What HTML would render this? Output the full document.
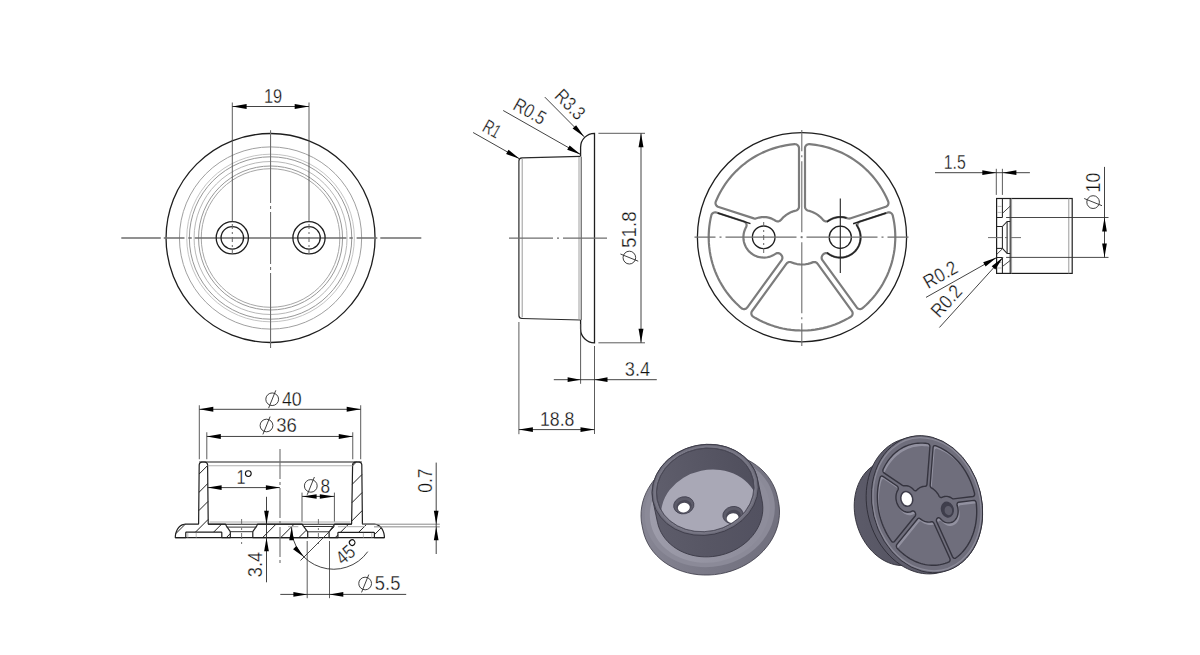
<!DOCTYPE html>
<html><head><meta charset="utf-8"><style>
html,body{margin:0;padding:0;background:#fff;width:1200px;height:655px;overflow:hidden}
svg{display:block}
text{font-family:"Liberation Sans",sans-serif;fill:#111;stroke:#fff;stroke-width:0.3px}
</style></head><body>
<svg width="1200" height="655" viewBox="0 0 1200 655">
<rect width="1200" height="655" fill="#fff"/>
<circle cx="270.55" cy="238" r="104.5" stroke="#1e1e1e" stroke-width="1.3" fill="none" />
<circle cx="270.55" cy="238" r="91.1" stroke="#a0a0a0" stroke-width="1.0" fill="none" />
<circle cx="270.55" cy="238" r="83.8" stroke="#c4c4c4" stroke-width="1.0" fill="none" />
<circle cx="270.55" cy="238" r="81.2" stroke="#979797" stroke-width="1.0" fill="none" />
<circle cx="270.55" cy="238" r="76.5" stroke="#b8b8b8" stroke-width="1.0" fill="none" />
<circle cx="270.55" cy="238" r="72" stroke="#999" stroke-width="1.0" fill="none" />
<circle cx="270.55" cy="238" r="69.3" stroke="#a6a6a6" stroke-width="1.0" fill="none" />
<path d="M121.3 238H160.8M163.75 238H184.5M188.3 238H191.75M194.7 238H346.4M349.4 238H352.8M356.6 238H377.3M380.3 238H421.3" stroke="#6e6e6e" stroke-width="1.4" fill="none"/>
<path d="M270.55 130.3V203M270.55 206V209M270.55 212V264M270.55 267V270M270.55 273V348" stroke="#6e6e6e" stroke-width="1.1" fill="none"/>
<circle cx="232.3" cy="237.8" r="16.1" stroke="#1e1e1e" stroke-width="1.3" fill="none" />
<circle cx="232.3" cy="237.8" r="11.25" stroke="#1e1e1e" stroke-width="1.3" fill="none" />
<line x1="232.3" y1="224" x2="232.3" y2="254" stroke="#666" stroke-width="1.0" stroke-dasharray="5 3 2 3" stroke-dashoffset="0"/>
<circle cx="309" cy="237.8" r="16.1" stroke="#1e1e1e" stroke-width="1.3" fill="none" />
<circle cx="309" cy="237.8" r="11.25" stroke="#1e1e1e" stroke-width="1.3" fill="none" />
<line x1="309" y1="224" x2="309" y2="254" stroke="#666" stroke-width="1.0" stroke-dasharray="5 3 2 3" stroke-dashoffset="0"/>
<line x1="232.3" y1="102.5" x2="232.3" y2="221.6" stroke="#4a4a4a" stroke-width="0.9" />
<line x1="309" y1="102.5" x2="309" y2="221.6" stroke="#4a4a4a" stroke-width="0.9" />
<line x1="232.3" y1="106.5" x2="309" y2="106.5" stroke="#2e2e2e" stroke-width="0.9" />
<path d="M232.3 106.5L246.6 103.92L246.6 109.08Z" fill="#000"/>
<path d="M309 106.5L294.7 109.08L294.7 103.92Z" fill="#000"/>
<g transform="translate(273.1 96) rotate(0)">
<text x="-9.1" y="6.7" text-anchor="start" font-size="19.5" textLength="18.2" lengthAdjust="spacingAndGlyphs">19</text>
</g>
<path d="M580.6 156.4 L522 157.9 Q518.9 158.2 518.9 161 L518.9 315.5 Q518.9 318.4 522 318.5 L580.6 320" fill="none" stroke="#2a2a2a" stroke-width="1.2"/>
<line x1="522.2" y1="159" x2="522.2" y2="317.4" stroke="#9a9a9a" stroke-width="1.0" />
<line x1="579" y1="157" x2="579" y2="319.5" stroke="#a0a0a0" stroke-width="1.0" />
<line x1="581.2" y1="156.5" x2="581.2" y2="320" stroke="#444" stroke-width="1.0" />
<path d="M580.6 156 L580.6 147.2 A13.9 13.9 0 0 1 594.5 133.3 L594.5 342.8 A13.9 13.9 0 0 1 580.6 328.9 L580.6 320" fill="none" stroke="#1e1e1e" stroke-width="1.3"/>
<path d="M557 238.2L559 238.2M563 238.2L607 238.2M509 238.2L553 238.2" stroke="#6e6e6e" stroke-width="1.2" fill="none"/>
<line x1="598.4" y1="133.3" x2="645" y2="133.3" stroke="#4a4a4a" stroke-width="0.9" />
<line x1="598.4" y1="342.8" x2="645" y2="342.8" stroke="#4a4a4a" stroke-width="0.9" />
<line x1="641" y1="133.3" x2="641" y2="342.8" stroke="#2e2e2e" stroke-width="0.9" />
<path d="M641 133.3L643.46 147.3L638.54 147.3Z" fill="#000"/>
<path d="M641 342.8L638.54 328.8L643.46 328.8Z" fill="#000"/>
<g transform="translate(629.35 237.75) rotate(-90)">
<ellipse cx="-19.85" cy="0" rx="6.4" ry="6.3" fill="none" stroke="#2a2a2a" stroke-width="0.9"/>
<line x1="-23.45" y1="8.9" x2="-16.25" y2="-8.9" stroke="#2a2a2a" stroke-width="0.9"/>
<text x="-10.15" y="6.7" text-anchor="start" font-size="19.5" textLength="36.5" lengthAdjust="spacingAndGlyphs">51.8</text>
</g>
<line x1="580.6" y1="324" x2="580.6" y2="383.8" stroke="#4a4a4a" stroke-width="0.9" />
<line x1="594.5" y1="346" x2="594.5" y2="434" stroke="#4a4a4a" stroke-width="0.9" />
<line x1="553.8" y1="379.7" x2="656.8" y2="379.7" stroke="#2e2e2e" stroke-width="0.9" />
<path d="M580.6 379.7L567.6 382.05L567.6 377.35Z" fill="#000"/>
<path d="M594.5 379.7L607.5 377.35L607.5 382.05Z" fill="#000"/>
<g transform="translate(637.4 369.5) rotate(0)">
<text x="-12.65" y="6.7" text-anchor="start" font-size="19.5" textLength="25.3" lengthAdjust="spacingAndGlyphs">3.4</text>
</g>
<line x1="518.9" y1="322" x2="518.9" y2="434.2" stroke="#4a4a4a" stroke-width="0.9" />
<line x1="518.9" y1="429.6" x2="594.5" y2="429.6" stroke="#2e2e2e" stroke-width="0.9" />
<path d="M518.9 429.6L532.9 427.14L532.9 432.06Z" fill="#000"/>
<path d="M594.5 429.6L580.5 432.06L580.5 427.14Z" fill="#000"/>
<g transform="translate(557.2 419) rotate(0)">
<text x="-17.2" y="6.7" text-anchor="start" font-size="19.5" textLength="34.4" lengthAdjust="spacingAndGlyphs">18.8</text>
</g>
<line x1="473.1" y1="132.5" x2="519.5" y2="158.8" stroke="#2e2e2e" stroke-width="0.9" />
<path d="M519.5 158.8L506.11 154.04L508.54 149.75Z" fill="#000"/>
<g transform="translate(492 128.9) rotate(29.55)">
<text x="-8.5" y="6.7" text-anchor="start" font-size="19.5" textLength="17" lengthAdjust="spacingAndGlyphs">R1</text>
</g>
<line x1="503.2" y1="110.5" x2="580.6" y2="154.5" stroke="#2e2e2e" stroke-width="0.9" />
<path d="M580.6 154.5L567.21 149.72L569.65 145.44Z" fill="#000"/>
<g transform="translate(529.9 111.2) rotate(29.62)">
<text x="-17" y="6.7" text-anchor="start" font-size="19.5" textLength="34" lengthAdjust="spacingAndGlyphs">R0.5</text>
</g>
<line x1="544.8" y1="97.1" x2="584.2" y2="136.8" stroke="#2e2e2e" stroke-width="0.9" />
<path d="M584.2 136.8L572.59 128.6L576.09 125.13Z" fill="#000"/>
<g transform="translate(570.2 104.4) rotate(45.22)">
<text x="-17" y="6.7" text-anchor="start" font-size="19.5" textLength="34" lengthAdjust="spacingAndGlyphs">R3.3</text>
</g>
<circle cx="802" cy="237.2" r="104.6" stroke="#1e1e1e" stroke-width="1.3" fill="none" />
<path d="M822.58 255.13L821.91 256.22L821.61 257.45L821.71 258.71L822.24 259.95L856.76 307.46L857.21 307.99L857.81 308.46L858.44 308.8L859.17 309.02L859.88 309.11L860.64 309.05L861.33 308.88L862.03 308.55L863.38 307.47L866.34 304.77L868.78 302.35L871.14 299.85L873.4 297.26L875.54 294.61L879.26 289.5L881.13 286.62L882.89 283.7L885.85 278.11L887.3 275L888.62 271.86L890.77 265.91L891.77 262.63L892.64 259.33L893.93 253.14L894.45 249.75L894.85 246.36L895.26 240.05L895.3 236.62L895.21 233.18L895 229.76L894.67 226.36L894.2 222.93L893.51 219.01L892.7 215.32L892.28 214.33L891.47 213.34L890.39 212.67L889.16 212.36L887.89 212.46L860.17 221.46L859.35 221.82L858.65 222.36L858.08 223.04L857.68 223.81L857.45 224.67L857.42 225.56L857.69 226.73L858.76 228.85L859.5 230.71L860 232.38L860.38 234.3L860.58 236.3L860.58 238.29L860.38 240.27L859.99 242.23L859.42 244.13L858.65 245.99L857.71 247.74L856.59 249.41L855.33 250.95L853.76 252.5L852.2 253.75L850.53 254.83L848.28 255.96L845.72 256.86L843.26 257.38L840.54 257.6L838.82 257.55L837.3 257.38L835.6 257.05L833.95 256.58L832.52 256.05L830.96 255.32L827.9 253.47L826.7 253.11L825.53 253.13L824.41 253.49L823.5 254.1ZM809.31 144.19L808.51 144.21L807.75 144.38L806.96 144.74L806.33 145.2L805.8 145.78L805.39 146.45L805.12 147.21L805 147.99L805 206.8L805.12 207.67L805.43 208.49L805.91 209.23L806.53 209.84L807.64 210.45L810.24 211.17L812.43 211.97L813.99 212.67L815.74 213.61L817.73 214.89L819.84 216.53L821.53 218.12L823.36 220.19L823.96 220.7L825.19 221.3L826.48 221.45L827.26 221.33L828 221.06L830.72 219.41L833.01 218.35L835.36 217.61L837.8 217.15L840.07 217L842.52 217.12L845.22 217.6L848.24 218.52L849.11 218.58L849.97 218.44L885.82 206.81L886.8 206.31L887.65 205.5L888.19 204.59L888.47 203.54L888.47 202.55L888.2 201.51L886.34 197.3L884.28 193.21L882.02 189.23L879.26 184.9L877.27 182.07L875.19 179.34L872.66 176.27L870.35 173.69L867.58 170.83L865.07 168.45L862.5 166.17L859.41 163.66L856.65 161.58L853.83 159.62L850.94 157.76L847.98 156.02L844.96 154.38L841.88 152.85L838.75 151.44L835.59 150.16L832.34 148.97L829.07 147.91L825.77 146.98L822.46 146.17L819.07 145.47L815.7 144.91ZM715.8 201.51L715.57 202.26L715.5 203.04L715.56 203.74L715.77 204.5L716.13 205.19L716.62 205.81L717.2 206.31L717.88 206.69L753.82 218.39L754.76 218.58L755.72 218.53L759 217.55L761.7 217.1L763.96 217L766.2 217.15L768.64 217.61L771 218.36L773.28 219.41L775.97 221.05L777.29 221.43L778.05 221.44L778.74 221.32L779.45 221.05L780.04 220.71L780.63 220.2L782.68 217.91L784.18 216.52L786.27 214.88L788.53 213.46L790.31 212.53L791.88 211.85L794.06 211.08L796.28 210.48L797.22 210.02L797.9 209.44L798.48 208.65L798.85 207.75L798.99 206.78L799 148.17L798.82 147L798.32 145.94L797.61 145.15L796.71 144.56L795.76 144.25L794.69 144.19L790.03 144.67L785.48 145.38L780.99 146.3L776.03 147.59L772.72 148.61L769.48 149.75L765.78 151.22L762.62 152.62L759.04 154.38L756 156.03L753.05 157.77L749.7 159.94L746.87 161.93L744.14 164.01L741.49 166.19L738.91 168.46L736.43 170.83L734.03 173.29L731.72 175.83L729.53 178.44L727.4 181.17L725.39 183.95L723.48 186.81L721.69 189.71L719.98 192.72L718.41 195.75ZM716.41 212.54L715.65 212.38L714.94 212.35L714.18 212.47L713.51 212.71L712.85 213.09L712.31 213.55L711.83 214.14L711.49 214.77L710.72 217.89L709.89 222.36L709.33 226.36L708.95 230.32L708.74 234.35L708.71 238.36L708.87 242.91L709.21 246.92L709.79 251.44L710.49 255.41L711.49 259.86L712.56 263.74L713.78 267.56L715.15 271.3L716.48 274.49L718.16 278.13L719.99 281.69L721.98 285.17L724.11 288.57L726.38 291.84L729.16 295.51L732.49 299.44L735.63 302.77L739.33 306.32L741.49 308.21L742.4 308.77L743.07 309L743.75 309.1L744.44 309.09L745.19 308.93L746.27 308.41L747.19 307.53L781.69 260.04L782.11 259.27L782.35 258.41L782.39 257.45L782.23 256.59L781.67 255.45L780.42 254.04L779.34 253.37L778.18 253.09L777.2 253.12L776.26 253.39L773.03 255.33L771.48 256.05L770.06 256.58L767.4 257.26L764.46 257.59L761.45 257.47L759.76 257.21L758.27 256.86L756.64 256.33L755.24 255.75L753.71 254.97L752.42 254.17L750.83 253L749.36 251.67L748.02 250.19L746.95 248.77L745.91 247.08L745.05 245.31L744.35 243.44L743.84 241.52L743.55 239.77L743.41 237.78L743.46 235.8L743.7 233.84L744.07 232.13L744.58 230.48L745.25 228.83L746.28 226.8L746.57 225.65L746.57 224.87L746.42 224.09L746.12 223.36L745.62 222.65L744.88 221.98L743.91 221.48ZM752.1 310.98L751.71 311.66L751.47 312.32L751.34 313.08L751.36 313.79L751.52 314.54L751.79 315.19L752.21 315.84L752.7 316.35L755.5 318.09L759.53 320.27L763.16 322.03L766.81 323.61L770.58 325.05L774.38 326.32L778.76 327.56L782.69 328.48L787.16 329.31L791.16 329.87L795.69 330.29L799.72 330.47L803.73 330.48L807.71 330.33L811.16 330.05L815.13 329.57L819.09 328.92L823.01 328.1L826.89 327.12L830.71 325.97L835.05 324.45L839.29 322.72L843.94 320.54L848 318.37L850.83 316.7L851.58 316.07L852.01 315.53L852.34 314.91L852.58 314.18L852.66 313.47L852.5 312.21L851.95 311.06L817.5 263.64L816.91 262.99L816.12 262.45L815.29 262.13L814.34 262L813.17 262.15L810.55 263.13L807.96 263.84L805.36 264.29L802.99 264.48L799.98 264.43L796.99 264.04L794.38 263.41L791 262.2L790.15 262.02L789.37 262.01L788.6 262.16L787.88 262.45L787.24 262.86L786.49 263.65Z" fill="none" stroke="#7c7c7c" stroke-width="2.2" stroke-linejoin="round"/>
<path d="M860.6 237.3L860.53 235.56L860.3 233.83L859.93 232.13L859.41 230.46L858.76 228.85L857.96 227.29L857.04 225.82L855.97 224.4" fill="none" stroke="#222" stroke-width="1.5"/>
<path d="M846.56 217.99L844.02 217.34L841.42 217.03L838.81 217.06L836.22 217.41L833.7 218.1L831.28 219.11L829.02 220.42L827.02 221.95" fill="none" stroke="#222" stroke-width="1.5"/>
<path d="M826.94 252.58L828.01 253.46L829.23 254.32L830.51 255.08L831.73 255.7L832.99 256.24L834.41 256.73L835.85 257.11L837.32 257.38L838.68 257.54L840.18 257.6L841.67 257.55L843.03 257.42L844.5 257.16L845.95 256.8L847.37 256.33L848.64 255.81L849.87 255.2L851.16 254.45L852.39 253.61L853.46 252.75L854.57 251.74L855.59 250.65L856.46 249.59L857.32 248.37L858.08 247.09L858.76 245.75L859.28 244.49L859.76 243.07L860.13 241.63L860.4 240.16L860.54 238.79L860.6 237.3" fill="none" stroke="#222" stroke-width="1.5"/>
<line x1="750.48" y1="223.61" x2="717.67" y2="212.95" stroke="#222" stroke-width="1.5" />
<line x1="853.14" y1="223.74" x2="886.05" y2="213.05" stroke="#222" stroke-width="1.5" />
<circle cx="763.7" cy="237.3" r="11.3" stroke="#1e1e1e" stroke-width="1.3" fill="none" />
<circle cx="840.3" cy="237.3" r="11.1" stroke="#1e1e1e" stroke-width="1.3" fill="none" />
<path d="M800.5 237.2L802.5 237.2M806.5 237.2L877.5 237.2M881.5 237.2L883.5 237.2M887.5 237.2L908.5 237.2M725.5 237.2L796.5 237.2M719.5 237.2L721.5 237.2M694.5 237.2L715.5 237.2" stroke="#6e6e6e" stroke-width="1.2" fill="none"/>
<path d="M801.8 236.2L801.8 238.2M801.8 242.2L801.8 313.2M801.8 317.2L801.8 319.2M801.8 323.2L801.8 346M801.8 161.2L801.8 232.2M801.8 155.2L801.8 157.2M801.8 130L801.8 151.2" stroke="#6e6e6e" stroke-width="1.1" fill="none"/>
<line x1="763.7" y1="222" x2="763.7" y2="253" stroke="#666" stroke-width="1.0" stroke-dasharray="5 3 2 3" stroke-dashoffset="0"/>
<line x1="840.3" y1="198.4" x2="840.3" y2="273.1" stroke="#222" stroke-width="1.1" />
<rect x="996.6" y="198.5" width="75.6" height="74.9" fill="none" stroke="#1e1e1e" stroke-width="1.2"/>
<line x1="1010.2" y1="198.5" x2="1010.2" y2="273.4" stroke="#222" stroke-width="1.1" />
<line x1="1011.6" y1="198.5" x2="1011.6" y2="273.4" stroke="#9a9a9a" stroke-width="1.0" />
<line x1="1068.8" y1="198.5" x2="1068.8" y2="273.4" stroke="#9a9a9a" stroke-width="1.0" />
<line x1="1006.1" y1="217.5" x2="1108.5" y2="217.5" stroke="#333" stroke-width="0.9" />
<line x1="1006.1" y1="257.4" x2="1108.5" y2="257.4" stroke="#333" stroke-width="0.9" />
<line x1="1002.4" y1="198.5" x2="1002.4" y2="217.5" stroke="#222" stroke-width="1.05" />
<line x1="996.6" y1="217.5" x2="1002.4" y2="217.5" stroke="#222" stroke-width="1.05" />
<line x1="996.6" y1="226.5" x2="1002.4" y2="226.5" stroke="#222" stroke-width="1.05" />
<line x1="1002.4" y1="226.5" x2="1007.1" y2="221.5" stroke="#222" stroke-width="1.05" />
<line x1="1007.1" y1="221.5" x2="1010.2" y2="221.5" stroke="#222" stroke-width="1.05" />
<line x1="1002.4" y1="226.5" x2="1002.4" y2="248.4" stroke="#222" stroke-width="1.05" />
<line x1="996.6" y1="248.4" x2="1002.4" y2="248.4" stroke="#222" stroke-width="1.05" />
<line x1="1002.4" y1="248.4" x2="1007.1" y2="253.4" stroke="#222" stroke-width="1.05" />
<line x1="1007.1" y1="253.4" x2="1010.2" y2="253.6" stroke="#222" stroke-width="1.05" />
<line x1="996.6" y1="257.5" x2="1002.4" y2="257.5" stroke="#222" stroke-width="1.05" />
<line x1="1002.4" y1="257.5" x2="1002.4" y2="273.3" stroke="#222" stroke-width="1.05" />
<line x1="1007.1" y1="221.5" x2="1007.1" y2="253.4" stroke="#222" stroke-width="1.05" />
<line x1="1002.4" y1="213.4" x2="1010.2" y2="206.1" stroke="#333" stroke-width="0.9" />
<line x1="1002.4" y1="266.5" x2="1010.2" y2="260.5" stroke="#333" stroke-width="0.9" />
<line x1="997" y1="254.1" x2="1002.1" y2="249.1" stroke="#333" stroke-width="0.9" />
<line x1="997.3" y1="206.4" x2="1001.6" y2="206.4" stroke="#b0b0b0" stroke-width="0.9" />
<line x1="997.3" y1="212.4" x2="1001.6" y2="212.4" stroke="#b0b0b0" stroke-width="0.9" />
<line x1="997.3" y1="262.5" x2="1001.6" y2="262.5" stroke="#b0b0b0" stroke-width="0.9" />
<line x1="997.3" y1="268" x2="1001.6" y2="268" stroke="#b0b0b0" stroke-width="0.9" />
<line x1="988" y1="237.6" x2="1021" y2="237.6" stroke="#6e6e6e" stroke-width="1.0" stroke-dasharray="14 3 3 3" stroke-dashoffset="0"/>
<line x1="996.3" y1="168.8" x2="996.3" y2="194.9" stroke="#4a4a4a" stroke-width="0.9" />
<line x1="1002.4" y1="168.8" x2="1002.4" y2="194.9" stroke="#4a4a4a" stroke-width="0.9" />
<line x1="935" y1="172.7" x2="1029.9" y2="172.7" stroke="#2e2e2e" stroke-width="0.9" />
<path d="M996.3 172.7L982.3 175.05L982.3 170.35Z" fill="#000"/>
<path d="M1002.4 172.7L1016.4 170.35L1016.4 175.05Z" fill="#000"/>
<g transform="translate(954.7 162.4) rotate(0)">
<text x="-11" y="6.7" text-anchor="start" font-size="19.5" textLength="22" lengthAdjust="spacingAndGlyphs">1.5</text>
</g>
<line x1="1104.5" y1="166.9" x2="1104.5" y2="257.4" stroke="#2e2e2e" stroke-width="0.9" />
<path d="M1104.5 217.5L1106.85 231.5L1102.15 231.5Z" fill="#000"/>
<path d="M1104.5 257.4L1102.15 243.4L1106.85 243.4Z" fill="#000"/>
<g transform="translate(1093.1 190.7) rotate(-90)">
<ellipse cx="-11.4" cy="0" rx="6.4" ry="6.3" fill="none" stroke="#2a2a2a" stroke-width="0.9"/>
<line x1="-15" y1="8.9" x2="-7.8" y2="-8.9" stroke="#2a2a2a" stroke-width="0.9"/>
<text x="-1.7" y="6.7" text-anchor="start" font-size="19.5" textLength="19.6" lengthAdjust="spacingAndGlyphs">10</text>
</g>
<line x1="926" y1="297.4" x2="996.6" y2="257.6" stroke="#2e2e2e" stroke-width="0.9" />
<path d="M996.6 257.6L985.61 266.62L983.19 262.33Z" fill="#000"/>
<g transform="translate(940.3 274.6) rotate(-29.41)">
<text x="-18" y="6.7" text-anchor="start" font-size="19.5" textLength="36" lengthAdjust="spacingAndGlyphs">R0.2</text>
</g>
<line x1="939.4" y1="327.5" x2="1002.9" y2="257.6" stroke="#2e2e2e" stroke-width="0.9" />
<path d="M1002.9 257.6L995.31 269.62L991.66 266.31Z" fill="#000"/>
<g transform="translate(946.3 301) rotate(-47.75)">
<text x="-18" y="6.7" text-anchor="start" font-size="19.5" textLength="36" lengthAdjust="spacingAndGlyphs">R0.2</text>
</g>
<path d="M199.11 474.04L207.61 465.54M198.92 492.38L207.8 483.5M175.74 533.71L185.25 524.2M198.74 510.71L207.99 501.46M195.5 532.1L208.18 519.42M213.65 532.1L221.55 524.2M226.3 537.6L230.3 533.6M257.3 524.75L257.85 524.2M262.6 537.6L276 524.2M280.75 537.6L294.15 524.2M352.59 465.76L356.35 462M298.9 537.6L306.41 530.09M352.28 484.22L361.9 474.6M351.96 502.69L362.09 492.56M335.2 537.6L337.9 534.9M340.4 532.4L348.6 524.2M351.65 521.15L362.28 510.52M358.55 532.4L366.75 524.2M374.4 534.7L381.25 527.85" stroke="#222" stroke-width="1.0" fill="none"/>
<path d="M329.1 531.8L329.1 537.6L337.9 537.6L337.9 532.94L337.95 532.77L338.08 532.58L338.27 532.45L338.5 532.4L373.86 532.4L374.08 532.47L374.22 532.58L374.35 532.77L374.4 532.94L374.4 537.6L384.4 537.6L384.34 536.19L384.18 534.83L383.91 533.47L383.54 532.16L383.05 530.89L382.48 529.71L381.84 528.65L381.1 527.65L380.27 526.75L379.41 526.01L378.48 525.37L377.51 524.86L376.5 524.5L375.42 524.27L374.39 524.2L362.99 524.2L362.66 524.1L362.53 523.98L362.42 523.78L361.8 465.02L361.72 464.33L361.47 463.68L361.1 463.13L360.61 462.67L359.99 462.3L359.31 462.08L358.58 462L355.82 462L355.07 462.08L354.4 462.31L353.81 462.66L353.31 463.12L352.92 463.7L352.68 464.35L352.6 465.02L351.61 523.61L351.56 523.84L351.34 524.1L351.01 524.2L334.54 524.2L333.77 525.64ZM252.8 537.6L307.7 537.6L307.7 531.8L303.03 525.64L302.26 524.2L257.56 524.2L256.77 525.84L252.8 531.7ZM175.3 537.6L185.75 537.6L185.75 532.64L185.8 532.47L185.93 532.28L186.07 532.17L186.29 532.1L221.2 532.1L221.43 532.15L221.62 532.28L221.75 532.47L221.8 532.64L221.8 537.6L230.3 537.6L230.3 531.7L226.33 525.84L225.54 524.2L208.79 524.2L208.46 524.1L208.3 523.94L208.22 523.78L207.6 465.02L207.52 464.33L207.27 463.68L206.9 463.13L206.41 462.67L205.79 462.3L205.11 462.08L204.38 462L202.38 462L201.69 462.08L201.01 462.3L200.41 462.66L199.89 463.14L199.52 463.7L199.29 464.32L199.2 464.98L198.61 523.61L198.56 523.83L198.34 524.1L198.01 524.2L185.31 524.2L184.28 524.27L183.2 524.5L182.19 524.86L181.25 525.35L180.29 526.01L179.41 526.77L178.6 527.65L177.88 528.62L177.2 529.74L176.64 530.91L176.17 532.14L175.79 533.47L175.52 534.83L175.36 536.19Z" fill="none" stroke="#1e1e1e" stroke-width="1.2" stroke-linejoin="round"/>
<line x1="175.3" y1="537.6" x2="384.4" y2="537.6" stroke="#1e1e1e" stroke-width="1.2" />
<line x1="208.2" y1="524.2" x2="351.6" y2="524.2" stroke="#1e1e1e" stroke-width="1.1" />
<line x1="226.6" y1="527.1" x2="256.4" y2="527.1" stroke="#333" stroke-width="1.0" />
<line x1="230.3" y1="531.7" x2="252.8" y2="531.7" stroke="#333" stroke-width="1.0" />
<line x1="303.3" y1="526.5" x2="333.5" y2="526.5" stroke="#333" stroke-width="1.0" />
<line x1="307.7" y1="531.8" x2="329.1" y2="531.8" stroke="#333" stroke-width="1.0" />
<line x1="209.5" y1="522" x2="350.3" y2="522" stroke="#b0b0b0" stroke-width="1.1" />
<line x1="207.6" y1="465.8" x2="352.6" y2="465.8" stroke="#b0b0b0" stroke-width="1.1" />
<line x1="199.2" y1="462" x2="361.8" y2="462" stroke="#1e1e1e" stroke-width="1.2" />
<line x1="187.8" y1="532.8" x2="187.8" y2="537.6" stroke="#aaa" stroke-width="0.8" />
<line x1="196.2" y1="532.8" x2="196.2" y2="537.6" stroke="#aaa" stroke-width="0.8" />
<line x1="363.4" y1="532.8" x2="363.4" y2="537.6" stroke="#aaa" stroke-width="0.8" />
<line x1="371.8" y1="532.8" x2="371.8" y2="537.6" stroke="#aaa" stroke-width="0.8" />
<line x1="288" y1="526.7" x2="298.3" y2="526.7" stroke="#aaa" stroke-width="1.0" />
<line x1="337.9" y1="526.7" x2="365" y2="526.7" stroke="#aaa" stroke-width="1.0" />
<line x1="362.4" y1="524.2" x2="439.8" y2="524.2" stroke="#8a8a8a" stroke-width="1.0" />
<line x1="374" y1="526.85" x2="439.8" y2="526.85" stroke="#8a8a8a" stroke-width="1.0" />
<line x1="280" y1="449" x2="280" y2="563" stroke="#6e6e6e" stroke-width="1.1" stroke-dasharray="30 3 3 3" stroke-dashoffset="0"/>
<line x1="241.6" y1="519" x2="241.6" y2="545" stroke="#666" stroke-width="0.9" stroke-dasharray="6 3 2 3" stroke-dashoffset="0"/>
<line x1="318.4" y1="519" x2="318.4" y2="545" stroke="#666" stroke-width="0.9" stroke-dasharray="6 3 2 3" stroke-dashoffset="0"/>
<line x1="199.3" y1="405.25" x2="199.3" y2="459.25" stroke="#4a4a4a" stroke-width="0.9" />
<line x1="360.7" y1="405.25" x2="360.7" y2="459.25" stroke="#4a4a4a" stroke-width="0.9" />
<line x1="199.3" y1="409.3" x2="360.7" y2="409.3" stroke="#2e2e2e" stroke-width="0.9" />
<path d="M199.3 409.3L213.3 406.84L213.3 411.76Z" fill="#000"/>
<path d="M360.7 409.3L346.7 411.76L346.7 406.84Z" fill="#000"/>
<g transform="translate(283.7 399.25) rotate(0)">
<ellipse cx="-11.5" cy="0" rx="6.4" ry="6.3" fill="none" stroke="#2a2a2a" stroke-width="0.9"/>
<line x1="-15.1" y1="8.9" x2="-7.9" y2="-8.9" stroke="#2a2a2a" stroke-width="0.9"/>
<text x="-1.8" y="6.7" text-anchor="start" font-size="19.5" textLength="19.8" lengthAdjust="spacingAndGlyphs">40</text>
</g>
<line x1="206.8" y1="432.25" x2="206.8" y2="459.25" stroke="#4a4a4a" stroke-width="0.9" />
<line x1="352.75" y1="432.25" x2="352.75" y2="459.25" stroke="#4a4a4a" stroke-width="0.9" />
<line x1="206.8" y1="436.45" x2="352.75" y2="436.45" stroke="#2e2e2e" stroke-width="0.9" />
<path d="M206.8 436.45L220.8 433.99L220.8 438.91Z" fill="#000"/>
<path d="M352.75 436.45L338.75 438.91L338.75 433.99Z" fill="#000"/>
<g transform="translate(278.4 425.5) rotate(0)">
<ellipse cx="-11.9" cy="0" rx="6.4" ry="6.3" fill="none" stroke="#2a2a2a" stroke-width="0.9"/>
<line x1="-15.5" y1="8.9" x2="-8.3" y2="-8.9" stroke="#2a2a2a" stroke-width="0.9"/>
<text x="-2.2" y="6.7" text-anchor="start" font-size="19.5" textLength="20.6" lengthAdjust="spacingAndGlyphs">36</text>
</g>
<line x1="207.6" y1="487.6" x2="279.9" y2="487.6" stroke="#2e2e2e" stroke-width="0.9" />
<path d="M207.6 487.6L221.6 485.14L221.6 490.06Z" fill="#000"/>
<path d="M279.9 487.6L265.9 490.06L265.9 485.14Z" fill="#000"/>
<text x="236.6" y="484" font-size="19.5" textLength="9" lengthAdjust="spacingAndGlyphs">1</text>
<circle cx="248.3" cy="473.6" r="2.9" stroke="#111" stroke-width="1.1" fill="none" />
<line x1="302" y1="492.6" x2="302" y2="521.5" stroke="#4a4a4a" stroke-width="0.9" />
<line x1="334.4" y1="492.6" x2="334.4" y2="521.5" stroke="#4a4a4a" stroke-width="0.9" />
<line x1="302" y1="496.4" x2="334.4" y2="496.4" stroke="#2e2e2e" stroke-width="0.9" />
<path d="M302 496.4L316.6 494.16L316.6 498.64Z" fill="#000"/>
<path d="M334.4 496.4L319.8 498.64L319.8 494.16Z" fill="#000"/>
<g transform="translate(317.2 485.9) rotate(0)">
<ellipse cx="-6.4" cy="0" rx="6.4" ry="6.3" fill="none" stroke="#2a2a2a" stroke-width="0.9"/>
<line x1="-10" y1="8.9" x2="-2.8" y2="-8.9" stroke="#2a2a2a" stroke-width="0.9"/>
<text x="3.3" y="6.7" text-anchor="start" font-size="19.5" textLength="9.6" lengthAdjust="spacingAndGlyphs">8</text>
</g>
<line x1="266.5" y1="496.8" x2="266.5" y2="582.3" stroke="#2e2e2e" stroke-width="0.9" />
<path d="M266.5 524.3L264.15 510.8L268.85 510.8Z" fill="#000"/>
<path d="M266.5 537.8L268.85 551.3L264.15 551.3Z" fill="#000"/>
<g transform="translate(255.5 564.6) rotate(-90)">
<text x="-12.6" y="6.7" text-anchor="start" font-size="19.5" textLength="25.2" lengthAdjust="spacingAndGlyphs">3.4</text>
</g>
<line x1="307.2" y1="541" x2="307.2" y2="598.2" stroke="#4a4a4a" stroke-width="0.9" />
<line x1="329.5" y1="541" x2="329.5" y2="598.2" stroke="#4a4a4a" stroke-width="0.9" />
<line x1="280.3" y1="594.4" x2="406.2" y2="594.4" stroke="#2e2e2e" stroke-width="0.9" />
<path d="M307.2 594.4L293.4 596.75L293.4 592.05Z" fill="#000"/>
<path d="M329.5 594.4L343.3 592.05L343.3 596.75Z" fill="#000"/>
<g transform="translate(379.5 583.5) rotate(0)">
<ellipse cx="-14.35" cy="0" rx="6.4" ry="6.3" fill="none" stroke="#2a2a2a" stroke-width="0.9"/>
<line x1="-17.95" y1="8.9" x2="-10.75" y2="-8.9" stroke="#2a2a2a" stroke-width="0.9"/>
<text x="-4.65" y="6.7" text-anchor="start" font-size="19.5" textLength="25.5" lengthAdjust="spacingAndGlyphs">5.5</text>
</g>
<path d="M291.6 527.2 A42.0 42.0 0 0 0 367.75 551.65" fill="none" stroke="#2e2e2e" stroke-width="0.9"/>
<path d="M291.6 527.2L293.95 540.2L289.25 540.2Z" fill="#000"/>
<path d="M303.9 556.9L293.05 549.37L296.37 546.04Z" fill="#000"/>
<line x1="334.5" y1="526.5" x2="300.5" y2="560.5" stroke="#333" stroke-width="0.9" />
<g transform="translate(347.8 552.5) rotate(-41)"><text x="-12.5" y="6.7" font-size="19.5" textLength="18.5" lengthAdjust="spacingAndGlyphs">45</text></g>
<g transform="translate(347.8 552.5) rotate(-41)"><circle cx="9.8" cy="-4.6" r="2.8" fill="none" stroke="#111" stroke-width="1.1"/></g>
<line x1="436.2" y1="462.6" x2="436.2" y2="554" stroke="#2e2e2e" stroke-width="0.9" />
<path d="M436.2 524.2L433.85 510.7L438.55 510.7Z" fill="#000"/>
<path d="M436.2 526.85L438.55 540.35L433.85 540.35Z" fill="#000"/>
<g transform="translate(425.2 480.6) rotate(-90)">
<text x="-12.15" y="6.7" text-anchor="start" font-size="19.5" textLength="24.3" lengthAdjust="spacingAndGlyphs">0.7</text>
</g>
<defs>
<linearGradient id="flg" x1="0" y1="0" x2="1" y2="0.2"><stop offset="0" stop-color="#8a8997"/><stop offset="0.45" stop-color="#7e7d8b"/><stop offset="1" stop-color="#72717f"/></linearGradient>
<linearGradient id="flt" x1="0" y1="0" x2="1" y2="0.3"><stop offset="0" stop-color="#a09fad"/><stop offset="1" stop-color="#8e8d9b"/></linearGradient>
<linearGradient id="wal" x1="0" y1="0" x2="1" y2="0"><stop offset="0" stop-color="#5e5d6b"/><stop offset="0.5" stop-color="#575664"/><stop offset="1" stop-color="#525160"/></linearGradient>
<linearGradient id="inw" x1="0" y1="0" x2="1" y2="0"><stop offset="0" stop-color="#5f5e6c"/><stop offset="1" stop-color="#504f5d"/></linearGradient>
<clipPath id="innerclip"><ellipse cx="705.2" cy="489.9" rx="49.0" ry="41.45" transform="rotate(-12 705.2 489.9)"/></clipPath>
</defs>
<path d="M642.07 525.71L641.31 521.05L640.99 516.34L641.12 511.59L641.69 506.83L642.71 502.11L644.16 497.45L646.04 492.88L648.33 488.42L651.02 484.12L654.09 479.99L657.52 476.06L661.28 472.37L665.37 468.92L669.74 465.75L674.37 462.88L679.23 460.32L684.29 458.09L689.51 456.21L694.87 454.68L700.32 453.52L705.83 452.74L711.37 452.34L716.89 452.32L722.37 452.68L727.77 453.42L733.06 454.54L738.19 456.02L743.13 457.87L747.86 460.06L752.35 462.58L756.55 465.42L760.46 468.56L764.03 471.97L767.25 475.64L770.1 479.54L772.56 483.65L774.61 487.93L776.24 492.37L777.44 496.93L778.44 501.63L779.2 506.28L779.52 511L779.39 515.75L778.81 520.5L777.79 525.23L776.34 529.89L774.47 534.46L772.18 538.92L769.49 543.22L766.42 547.35L762.99 551.27L759.22 554.97L755.14 558.41L750.77 561.58L746.13 564.46L741.27 567.02L736.22 569.25L730.99 571.13L725.64 572.65L720.19 573.81L714.68 574.6L709.14 575L703.61 575.02L698.13 574.66L692.73 573.92L687.45 572.8L682.32 571.32L677.37 569.47L672.64 567.28L668.16 564.76L663.95 561.92L660.05 558.78L656.47 555.37L653.25 551.7L650.4 547.8L647.94 543.69L645.89 539.4L644.26 534.97L643.06 530.4Z" fill="url(#flg)" stroke="#3a3945" stroke-width="0.8"/>
<ellipse cx="709.75" cy="511.32" rx="65.5" ry="55.41" transform="rotate(-12 709.75 511.32)" fill="#8b8a98" />
<ellipse cx="709.75" cy="511.32" rx="60.3" ry="51.01" transform="rotate(-12 709.75 511.32)" fill="url(#flt)" />
<path d="M652.97 501L652.38 497.41L652.14 493.77L652.24 490.1L652.68 486.44L653.47 482.79L654.58 479.2L656.03 475.67L657.8 472.23L659.87 468.91L662.24 465.72L664.89 462.69L667.8 459.84L670.95 457.18L674.32 454.74L677.9 452.52L681.65 450.54L685.55 448.82L689.58 447.37L693.71 446.19L697.92 445.3L702.17 444.69L706.45 444.38L710.71 444.37L714.94 444.65L719.11 445.22L723.18 446.08L727.14 447.23L730.96 448.65L734.61 450.34L738.07 452.29L741.31 454.48L744.33 456.9L747.09 459.53L749.57 462.37L751.77 465.38L753.67 468.54L755.25 471.85L756.51 475.28L757.43 478.8L761.99 500.22L762.57 503.81L762.82 507.45L762.72 511.12L762.27 514.78L761.49 518.43L760.37 522.03L758.92 525.56L757.15 528.99L755.08 532.31L752.71 535.5L750.06 538.53L747.16 541.38L744 544.04L740.63 546.48L737.06 548.7L733.31 550.68L729.4 552.4L725.37 553.85L721.24 555.03L717.04 555.92L712.78 556.53L708.51 556.84L704.24 556.85L700.01 556.58L695.85 556L691.77 555.14L687.81 554L683.99 552.57L680.34 550.88L676.88 548.93L673.64 546.74L670.63 544.32L667.87 541.69L665.38 538.86L663.18 535.85L661.29 532.68L659.7 529.37L658.45 525.94L657.52 522.42Z" fill="url(#wal)" stroke="#3a3945" stroke-width="0.9"/>
<ellipse cx="705.2" cy="489.9" rx="53.4" ry="45.18" transform="rotate(-12 705.2 489.9)" fill="#6d6c7a" stroke="#3a3945" stroke-width="0.8"/>
<ellipse cx="705.2" cy="489.9" rx="51.6" ry="43.65" transform="rotate(-12 705.2 489.9)" fill="#777684" />
<ellipse cx="705.2" cy="489.9" rx="49" ry="41.45" transform="rotate(-12 705.2 489.9)" fill="url(#inw)" stroke="#3a3945" stroke-width="0.6"/>
<g clip-path="url(#innerclip)">
<ellipse cx="709.75" cy="511.32" rx="49" ry="41.45" transform="rotate(-12 709.75 511.32)" fill="#a9a8b6" />
<ellipse cx="683.8" cy="505.3" rx="10.2" ry="8.5" transform="rotate(-12 683.8 505.3)" fill="#5d5c6a" stroke="#3f3e4c" stroke-width="0.8"/>
<ellipse cx="684.1" cy="506.3" rx="7.6" ry="6.1" transform="rotate(-12 684.1 506.3)" fill="#4a4957" />
<ellipse cx="683.8" cy="507.6" rx="6" ry="4.7" transform="rotate(-12 683.8 507.6)" fill="#ffffff" />
<ellipse cx="733" cy="515" rx="10.2" ry="8.5" transform="rotate(-12 733 515)" fill="#5d5c6a" stroke="#3f3e4c" stroke-width="0.8"/>
<ellipse cx="733.3" cy="516" rx="7.6" ry="6.1" transform="rotate(-12 733.3 516)" fill="#4a4957" />
<ellipse cx="732.6" cy="518" rx="6" ry="4.7" transform="rotate(-12 732.6 518)" fill="#ffffff" />
</g>
<ellipse cx="705.2" cy="489.9" rx="49" ry="41.45" transform="rotate(-12 705.2 489.9)" fill="none" stroke="#4a4957" stroke-width="0.8"/>
<defs><linearGradient id="bdy" x1="0" y1="0" x2="1" y2="0"><stop offset="0" stop-color="#5c5b69"/><stop offset="0.6" stop-color="#535260"/><stop offset="1" stop-color="#4c4b59"/></linearGradient></defs>
<path d="M915.09 453.14L912.15 453.35L909.25 453.81L906.42 454.53L881.84 461.7L879.08 462.67L876.41 463.88L873.84 465.33L871.38 467.01L869.05 468.92L866.86 471.04L864.81 473.37L862.92 475.89L861.19 478.58L859.64 481.45L858.28 484.47L857.1 487.63L856.12 490.91L855.33 494.3L854.75 497.78L854.38 501.33L854.21 504.94L854.26 508.59L854.51 512.26L854.97 515.94L855.63 519.6L856.5 523.22L857.57 526.8L858.82 530.31L860.27 533.73L861.89 537.05L863.69 540.26L865.64 543.33L867.75 546.26L870.01 549.02L872.39 551.6L874.9 554L877.51 556.2L880.22 558.19L883.02 559.95L885.88 561.49L888.79 562.79L891.75 563.85L894.73 564.66L897.72 565.22L900.71 565.52L903.69 565.57L906.63 565.36L909.52 564.89L912.35 564.17L936.93 557.01L939.69 556.04L942.36 554.83L944.93 553.37L947.39 551.69L949.72 549.78L951.92 547.66L953.96 545.34L955.86 542.82L957.58 540.12L959.13 537.25L960.5 534.23L961.67 531.07L962.66 527.79L963.44 524.4L964.02 520.92L964.39 517.37L964.56 513.76L964.51 510.11L964.26 506.44L963.8 502.77L963.14 499.11L962.27 495.48L961.21 491.91L959.95 488.4L958.5 484.97L956.88 481.65L955.09 478.44L953.13 475.37L951.02 472.45L948.76 469.69L946.38 467.1L943.87 464.7L941.26 462.51L938.55 460.52L935.76 458.75L932.9 457.21L929.98 455.91L927.02 454.86L924.04 454.05L921.05 453.49L918.06 453.18Z" fill="url(#bdy)" stroke="#2c2b36" stroke-width="0.9"/>
<path d="M918.52 436.07L914.72 436.34L910.97 436.94L907.3 437.87L901.93 439.44L898.35 440.69L894.89 442.26L891.57 444.14L888.39 446.32L885.37 448.79L882.52 451.53L879.87 454.54L877.42 457.8L875.19 461.3L873.19 465.01L871.42 468.92L869.89 473.01L868.62 477.26L867.61 481.64L866.86 486.15L866.37 490.75L866.16 495.42L866.21 500.14L866.54 504.9L867.14 509.65L868 514.39L869.12 519.08L870.5 523.71L872.13 528.26L873.99 532.69L876.1 536.99L878.42 541.14L880.95 545.12L883.69 548.9L886.6 552.48L889.69 555.83L892.94 558.93L896.32 561.77L899.83 564.35L903.44 566.63L907.15 568.62L910.92 570.31L914.75 571.68L918.61 572.73L922.48 573.45L926.35 573.84L930.2 573.9L934.01 573.63L937.75 573.03L941.42 572.1L946.8 570.53L950.37 569.28L953.83 567.71L957.16 565.83L960.34 563.65L963.36 561.18L966.2 558.43L968.85 555.42L971.3 552.16L973.53 548.67L975.54 544.96L977.31 541.05L978.83 536.96L980.1 532.71L981.12 528.33L981.87 523.82L982.35 519.22L982.57 514.55L982.51 509.82L982.18 505.07L981.59 500.32L980.73 495.58L979.6 490.88L978.23 486.26L976.6 481.71L974.73 477.28L972.63 472.98L970.3 468.83L967.77 464.85L965.04 461.07L962.12 457.49L959.03 454.14L955.79 451.04L952.4 448.19L948.89 445.62L945.28 443.34L941.58 441.34L937.8 439.66L933.98 438.29L930.12 437.24L926.24 436.52L922.37 436.13Z" fill="#5d5c6a" stroke="#2c2b36" stroke-width="0.9"/>
<g transform="matrix(0.53 0.14 -0.05 0.64 927.05 504.2)">
<circle cx="0" cy="0" r="104.6" fill="#6f6e7c" stroke="#2c2b36" stroke-width="0.9" vector-effect="non-scaling-stroke"/>
<circle cx="0" cy="0" r="101.5" fill="none" stroke="#8c8b99" stroke-width="1.2" vector-effect="non-scaling-stroke"/>
<clipPath id="pc0"><path d="M20.58 17.93L19.91 19.02L19.61 20.25L19.71 21.51L20.24 22.75L54.76 70.26L55.21 70.79L55.81 71.26L56.44 71.6L57.17 71.82L57.88 71.91L58.64 71.85L59.33 71.68L60.03 71.35L61.38 70.27L64.34 67.57L66.78 65.15L69.14 62.65L71.4 60.06L73.54 57.41L77.26 52.3L79.13 49.42L80.89 46.5L83.85 40.91L85.3 37.8L86.62 34.66L88.77 28.71L89.77 25.43L90.64 22.13L91.93 15.94L92.45 12.55L92.85 9.16L93.26 2.85L93.3 -0.58L93.21 -4.02L93 -7.44L92.67 -10.84L92.2 -14.27L91.51 -18.19L90.7 -21.88L90.28 -22.87L89.47 -23.86L88.39 -24.53L87.16 -24.84L85.89 -24.74L58.17 -15.74L57.35 -15.38L56.65 -14.84L56.08 -14.16L55.68 -13.39L55.45 -12.53L55.42 -11.64L55.69 -10.47L56.76 -8.35L57.5 -6.49L58 -4.82L58.38 -2.9L58.58 -0.9L58.58 1.09L58.38 3.07L57.99 5.03L57.42 6.93L56.65 8.79L55.71 10.54L54.59 12.21L53.33 13.75L51.76 15.3L50.2 16.55L48.53 17.63L46.28 18.76L43.72 19.66L41.26 20.18L38.54 20.4L36.82 20.35L35.3 20.18L33.6 19.85L31.95 19.38L30.52 18.85L28.96 18.12L25.9 16.27L24.7 15.91L23.53 15.93L22.41 16.29L21.5 16.9Z"/></clipPath>
<path d="M20.58 17.93L19.91 19.02L19.61 20.25L19.71 21.51L20.24 22.75L54.76 70.26L55.21 70.79L55.81 71.26L56.44 71.6L57.17 71.82L57.88 71.91L58.64 71.85L59.33 71.68L60.03 71.35L61.38 70.27L64.34 67.57L66.78 65.15L69.14 62.65L71.4 60.06L73.54 57.41L77.26 52.3L79.13 49.42L80.89 46.5L83.85 40.91L85.3 37.8L86.62 34.66L88.77 28.71L89.77 25.43L90.64 22.13L91.93 15.94L92.45 12.55L92.85 9.16L93.26 2.85L93.3 -0.58L93.21 -4.02L93 -7.44L92.67 -10.84L92.2 -14.27L91.51 -18.19L90.7 -21.88L90.28 -22.87L89.47 -23.86L88.39 -24.53L87.16 -24.84L85.89 -24.74L58.17 -15.74L57.35 -15.38L56.65 -14.84L56.08 -14.16L55.68 -13.39L55.45 -12.53L55.42 -11.64L55.69 -10.47L56.76 -8.35L57.5 -6.49L58 -4.82L58.38 -2.9L58.58 -0.9L58.58 1.09L58.38 3.07L57.99 5.03L57.42 6.93L56.65 8.79L55.71 10.54L54.59 12.21L53.33 13.75L51.76 15.3L50.2 16.55L48.53 17.63L46.28 18.76L43.72 19.66L41.26 20.18L38.54 20.4L36.82 20.35L35.3 20.18L33.6 19.85L31.95 19.38L30.52 18.85L28.96 18.12L25.9 16.27L24.7 15.91L23.53 15.93L22.41 16.29L21.5 16.9Z" fill="#9291a0"/>
<g clip-path="url(#pc0)"><path d="M20.58 17.93L19.91 19.02L19.61 20.25L19.71 21.51L20.24 22.75L54.76 70.26L55.21 70.79L55.81 71.26L56.44 71.6L57.17 71.82L57.88 71.91L58.64 71.85L59.33 71.68L60.03 71.35L61.38 70.27L64.34 67.57L66.78 65.15L69.14 62.65L71.4 60.06L73.54 57.41L77.26 52.3L79.13 49.42L80.89 46.5L83.85 40.91L85.3 37.8L86.62 34.66L88.77 28.71L89.77 25.43L90.64 22.13L91.93 15.94L92.45 12.55L92.85 9.16L93.26 2.85L93.3 -0.58L93.21 -4.02L93 -7.44L92.67 -10.84L92.2 -14.27L91.51 -18.19L90.7 -21.88L90.28 -22.87L89.47 -23.86L88.39 -24.53L87.16 -24.84L85.89 -24.74L58.17 -15.74L57.35 -15.38L56.65 -14.84L56.08 -14.16L55.68 -13.39L55.45 -12.53L55.42 -11.64L55.69 -10.47L56.76 -8.35L57.5 -6.49L58 -4.82L58.38 -2.9L58.58 -0.9L58.58 1.09L58.38 3.07L57.99 5.03L57.42 6.93L56.65 8.79L55.71 10.54L54.59 12.21L53.33 13.75L51.76 15.3L50.2 16.55L48.53 17.63L46.28 18.76L43.72 19.66L41.26 20.18L38.54 20.4L36.82 20.35L35.3 20.18L33.6 19.85L31.95 19.38L30.52 18.85L28.96 18.12L25.9 16.27L24.7 15.91L23.53 15.93L22.41 16.29L21.5 16.9Z" fill="#6f6e7c" transform="translate(3.2 4.0)"/></g>
<path d="M20.58 17.93L19.91 19.02L19.61 20.25L19.71 21.51L20.24 22.75L54.76 70.26L55.21 70.79L55.81 71.26L56.44 71.6L57.17 71.82L57.88 71.91L58.64 71.85L59.33 71.68L60.03 71.35L61.38 70.27L64.34 67.57L66.78 65.15L69.14 62.65L71.4 60.06L73.54 57.41L77.26 52.3L79.13 49.42L80.89 46.5L83.85 40.91L85.3 37.8L86.62 34.66L88.77 28.71L89.77 25.43L90.64 22.13L91.93 15.94L92.45 12.55L92.85 9.16L93.26 2.85L93.3 -0.58L93.21 -4.02L93 -7.44L92.67 -10.84L92.2 -14.27L91.51 -18.19L90.7 -21.88L90.28 -22.87L89.47 -23.86L88.39 -24.53L87.16 -24.84L85.89 -24.74L58.17 -15.74L57.35 -15.38L56.65 -14.84L56.08 -14.16L55.68 -13.39L55.45 -12.53L55.42 -11.64L55.69 -10.47L56.76 -8.35L57.5 -6.49L58 -4.82L58.38 -2.9L58.58 -0.9L58.58 1.09L58.38 3.07L57.99 5.03L57.42 6.93L56.65 8.79L55.71 10.54L54.59 12.21L53.33 13.75L51.76 15.3L50.2 16.55L48.53 17.63L46.28 18.76L43.72 19.66L41.26 20.18L38.54 20.4L36.82 20.35L35.3 20.18L33.6 19.85L31.95 19.38L30.52 18.85L28.96 18.12L25.9 16.27L24.7 15.91L23.53 15.93L22.41 16.29L21.5 16.9Z" fill="none" stroke="#35343f" stroke-width="1.4" vector-effect="non-scaling-stroke"/>
<clipPath id="pc1"><path d="M7.31 -93.01L6.51 -92.99L5.75 -92.82L4.96 -92.46L4.33 -92L3.8 -91.42L3.39 -90.75L3.12 -89.99L3 -89.21L3 -30.4L3.12 -29.53L3.43 -28.71L3.91 -27.97L4.53 -27.36L5.64 -26.75L8.24 -26.03L10.43 -25.23L11.99 -24.53L13.74 -23.59L15.73 -22.31L17.84 -20.67L19.53 -19.08L21.36 -17.01L21.96 -16.5L23.19 -15.9L24.48 -15.75L25.26 -15.87L26 -16.14L28.72 -17.79L31.01 -18.85L33.36 -19.59L35.8 -20.05L38.07 -20.2L40.52 -20.08L43.22 -19.6L46.24 -18.68L47.11 -18.62L47.97 -18.76L83.82 -30.39L84.8 -30.89L85.65 -31.7L86.19 -32.61L86.47 -33.66L86.47 -34.65L86.2 -35.69L84.34 -39.9L82.28 -43.99L80.02 -47.97L77.26 -52.3L75.27 -55.13L73.19 -57.86L70.66 -60.93L68.35 -63.51L65.58 -66.37L63.07 -68.75L60.5 -71.03L57.41 -73.54L54.65 -75.62L51.83 -77.58L48.94 -79.44L45.98 -81.18L42.96 -82.82L39.88 -84.35L36.75 -85.76L33.59 -87.04L30.34 -88.23L27.07 -89.29L23.77 -90.22L20.46 -91.03L17.07 -91.73L13.7 -92.29Z"/></clipPath>
<path d="M7.31 -93.01L6.51 -92.99L5.75 -92.82L4.96 -92.46L4.33 -92L3.8 -91.42L3.39 -90.75L3.12 -89.99L3 -89.21L3 -30.4L3.12 -29.53L3.43 -28.71L3.91 -27.97L4.53 -27.36L5.64 -26.75L8.24 -26.03L10.43 -25.23L11.99 -24.53L13.74 -23.59L15.73 -22.31L17.84 -20.67L19.53 -19.08L21.36 -17.01L21.96 -16.5L23.19 -15.9L24.48 -15.75L25.26 -15.87L26 -16.14L28.72 -17.79L31.01 -18.85L33.36 -19.59L35.8 -20.05L38.07 -20.2L40.52 -20.08L43.22 -19.6L46.24 -18.68L47.11 -18.62L47.97 -18.76L83.82 -30.39L84.8 -30.89L85.65 -31.7L86.19 -32.61L86.47 -33.66L86.47 -34.65L86.2 -35.69L84.34 -39.9L82.28 -43.99L80.02 -47.97L77.26 -52.3L75.27 -55.13L73.19 -57.86L70.66 -60.93L68.35 -63.51L65.58 -66.37L63.07 -68.75L60.5 -71.03L57.41 -73.54L54.65 -75.62L51.83 -77.58L48.94 -79.44L45.98 -81.18L42.96 -82.82L39.88 -84.35L36.75 -85.76L33.59 -87.04L30.34 -88.23L27.07 -89.29L23.77 -90.22L20.46 -91.03L17.07 -91.73L13.7 -92.29Z" fill="#9291a0"/>
<g clip-path="url(#pc1)"><path d="M7.31 -93.01L6.51 -92.99L5.75 -92.82L4.96 -92.46L4.33 -92L3.8 -91.42L3.39 -90.75L3.12 -89.99L3 -89.21L3 -30.4L3.12 -29.53L3.43 -28.71L3.91 -27.97L4.53 -27.36L5.64 -26.75L8.24 -26.03L10.43 -25.23L11.99 -24.53L13.74 -23.59L15.73 -22.31L17.84 -20.67L19.53 -19.08L21.36 -17.01L21.96 -16.5L23.19 -15.9L24.48 -15.75L25.26 -15.87L26 -16.14L28.72 -17.79L31.01 -18.85L33.36 -19.59L35.8 -20.05L38.07 -20.2L40.52 -20.08L43.22 -19.6L46.24 -18.68L47.11 -18.62L47.97 -18.76L83.82 -30.39L84.8 -30.89L85.65 -31.7L86.19 -32.61L86.47 -33.66L86.47 -34.65L86.2 -35.69L84.34 -39.9L82.28 -43.99L80.02 -47.97L77.26 -52.3L75.27 -55.13L73.19 -57.86L70.66 -60.93L68.35 -63.51L65.58 -66.37L63.07 -68.75L60.5 -71.03L57.41 -73.54L54.65 -75.62L51.83 -77.58L48.94 -79.44L45.98 -81.18L42.96 -82.82L39.88 -84.35L36.75 -85.76L33.59 -87.04L30.34 -88.23L27.07 -89.29L23.77 -90.22L20.46 -91.03L17.07 -91.73L13.7 -92.29Z" fill="#6f6e7c" transform="translate(3.2 4.0)"/></g>
<path d="M7.31 -93.01L6.51 -92.99L5.75 -92.82L4.96 -92.46L4.33 -92L3.8 -91.42L3.39 -90.75L3.12 -89.99L3 -89.21L3 -30.4L3.12 -29.53L3.43 -28.71L3.91 -27.97L4.53 -27.36L5.64 -26.75L8.24 -26.03L10.43 -25.23L11.99 -24.53L13.74 -23.59L15.73 -22.31L17.84 -20.67L19.53 -19.08L21.36 -17.01L21.96 -16.5L23.19 -15.9L24.48 -15.75L25.26 -15.87L26 -16.14L28.72 -17.79L31.01 -18.85L33.36 -19.59L35.8 -20.05L38.07 -20.2L40.52 -20.08L43.22 -19.6L46.24 -18.68L47.11 -18.62L47.97 -18.76L83.82 -30.39L84.8 -30.89L85.65 -31.7L86.19 -32.61L86.47 -33.66L86.47 -34.65L86.2 -35.69L84.34 -39.9L82.28 -43.99L80.02 -47.97L77.26 -52.3L75.27 -55.13L73.19 -57.86L70.66 -60.93L68.35 -63.51L65.58 -66.37L63.07 -68.75L60.5 -71.03L57.41 -73.54L54.65 -75.62L51.83 -77.58L48.94 -79.44L45.98 -81.18L42.96 -82.82L39.88 -84.35L36.75 -85.76L33.59 -87.04L30.34 -88.23L27.07 -89.29L23.77 -90.22L20.46 -91.03L17.07 -91.73L13.7 -92.29Z" fill="none" stroke="#35343f" stroke-width="1.4" vector-effect="non-scaling-stroke"/>
<clipPath id="pc2"><path d="M-86.2 -35.69L-86.43 -34.94L-86.5 -34.16L-86.44 -33.46L-86.23 -32.7L-85.87 -32.01L-85.38 -31.39L-84.8 -30.89L-84.12 -30.51L-48.18 -18.81L-47.24 -18.62L-46.28 -18.67L-43 -19.65L-40.3 -20.1L-38.04 -20.2L-35.8 -20.05L-33.36 -19.59L-31 -18.84L-28.72 -17.79L-26.03 -16.15L-24.71 -15.77L-23.95 -15.76L-23.26 -15.88L-22.55 -16.15L-21.96 -16.49L-21.37 -17L-19.32 -19.29L-17.82 -20.68L-15.73 -22.32L-13.47 -23.74L-11.69 -24.67L-10.12 -25.35L-7.94 -26.12L-5.72 -26.72L-4.78 -27.18L-4.1 -27.76L-3.52 -28.55L-3.15 -29.45L-3.01 -30.42L-3 -89.03L-3.18 -90.2L-3.68 -91.26L-4.39 -92.05L-5.29 -92.64L-6.24 -92.95L-7.31 -93.01L-11.97 -92.53L-16.52 -91.82L-21.01 -90.9L-25.97 -89.61L-29.28 -88.59L-32.52 -87.45L-36.22 -85.98L-39.38 -84.58L-42.96 -82.82L-46 -81.17L-48.95 -79.43L-52.3 -77.26L-55.13 -75.27L-57.86 -73.19L-60.51 -71.01L-63.09 -68.74L-65.57 -66.37L-67.97 -63.91L-70.28 -61.37L-72.47 -58.76L-74.6 -56.03L-76.61 -53.25L-78.52 -50.39L-80.31 -47.49L-82.02 -44.48L-83.59 -41.45Z"/></clipPath>
<path d="M-86.2 -35.69L-86.43 -34.94L-86.5 -34.16L-86.44 -33.46L-86.23 -32.7L-85.87 -32.01L-85.38 -31.39L-84.8 -30.89L-84.12 -30.51L-48.18 -18.81L-47.24 -18.62L-46.28 -18.67L-43 -19.65L-40.3 -20.1L-38.04 -20.2L-35.8 -20.05L-33.36 -19.59L-31 -18.84L-28.72 -17.79L-26.03 -16.15L-24.71 -15.77L-23.95 -15.76L-23.26 -15.88L-22.55 -16.15L-21.96 -16.49L-21.37 -17L-19.32 -19.29L-17.82 -20.68L-15.73 -22.32L-13.47 -23.74L-11.69 -24.67L-10.12 -25.35L-7.94 -26.12L-5.72 -26.72L-4.78 -27.18L-4.1 -27.76L-3.52 -28.55L-3.15 -29.45L-3.01 -30.42L-3 -89.03L-3.18 -90.2L-3.68 -91.26L-4.39 -92.05L-5.29 -92.64L-6.24 -92.95L-7.31 -93.01L-11.97 -92.53L-16.52 -91.82L-21.01 -90.9L-25.97 -89.61L-29.28 -88.59L-32.52 -87.45L-36.22 -85.98L-39.38 -84.58L-42.96 -82.82L-46 -81.17L-48.95 -79.43L-52.3 -77.26L-55.13 -75.27L-57.86 -73.19L-60.51 -71.01L-63.09 -68.74L-65.57 -66.37L-67.97 -63.91L-70.28 -61.37L-72.47 -58.76L-74.6 -56.03L-76.61 -53.25L-78.52 -50.39L-80.31 -47.49L-82.02 -44.48L-83.59 -41.45Z" fill="#9291a0"/>
<g clip-path="url(#pc2)"><path d="M-86.2 -35.69L-86.43 -34.94L-86.5 -34.16L-86.44 -33.46L-86.23 -32.7L-85.87 -32.01L-85.38 -31.39L-84.8 -30.89L-84.12 -30.51L-48.18 -18.81L-47.24 -18.62L-46.28 -18.67L-43 -19.65L-40.3 -20.1L-38.04 -20.2L-35.8 -20.05L-33.36 -19.59L-31 -18.84L-28.72 -17.79L-26.03 -16.15L-24.71 -15.77L-23.95 -15.76L-23.26 -15.88L-22.55 -16.15L-21.96 -16.49L-21.37 -17L-19.32 -19.29L-17.82 -20.68L-15.73 -22.32L-13.47 -23.74L-11.69 -24.67L-10.12 -25.35L-7.94 -26.12L-5.72 -26.72L-4.78 -27.18L-4.1 -27.76L-3.52 -28.55L-3.15 -29.45L-3.01 -30.42L-3 -89.03L-3.18 -90.2L-3.68 -91.26L-4.39 -92.05L-5.29 -92.64L-6.24 -92.95L-7.31 -93.01L-11.97 -92.53L-16.52 -91.82L-21.01 -90.9L-25.97 -89.61L-29.28 -88.59L-32.52 -87.45L-36.22 -85.98L-39.38 -84.58L-42.96 -82.82L-46 -81.17L-48.95 -79.43L-52.3 -77.26L-55.13 -75.27L-57.86 -73.19L-60.51 -71.01L-63.09 -68.74L-65.57 -66.37L-67.97 -63.91L-70.28 -61.37L-72.47 -58.76L-74.6 -56.03L-76.61 -53.25L-78.52 -50.39L-80.31 -47.49L-82.02 -44.48L-83.59 -41.45Z" fill="#6f6e7c" transform="translate(3.2 4.0)"/></g>
<path d="M-86.2 -35.69L-86.43 -34.94L-86.5 -34.16L-86.44 -33.46L-86.23 -32.7L-85.87 -32.01L-85.38 -31.39L-84.8 -30.89L-84.12 -30.51L-48.18 -18.81L-47.24 -18.62L-46.28 -18.67L-43 -19.65L-40.3 -20.1L-38.04 -20.2L-35.8 -20.05L-33.36 -19.59L-31 -18.84L-28.72 -17.79L-26.03 -16.15L-24.71 -15.77L-23.95 -15.76L-23.26 -15.88L-22.55 -16.15L-21.96 -16.49L-21.37 -17L-19.32 -19.29L-17.82 -20.68L-15.73 -22.32L-13.47 -23.74L-11.69 -24.67L-10.12 -25.35L-7.94 -26.12L-5.72 -26.72L-4.78 -27.18L-4.1 -27.76L-3.52 -28.55L-3.15 -29.45L-3.01 -30.42L-3 -89.03L-3.18 -90.2L-3.68 -91.26L-4.39 -92.05L-5.29 -92.64L-6.24 -92.95L-7.31 -93.01L-11.97 -92.53L-16.52 -91.82L-21.01 -90.9L-25.97 -89.61L-29.28 -88.59L-32.52 -87.45L-36.22 -85.98L-39.38 -84.58L-42.96 -82.82L-46 -81.17L-48.95 -79.43L-52.3 -77.26L-55.13 -75.27L-57.86 -73.19L-60.51 -71.01L-63.09 -68.74L-65.57 -66.37L-67.97 -63.91L-70.28 -61.37L-72.47 -58.76L-74.6 -56.03L-76.61 -53.25L-78.52 -50.39L-80.31 -47.49L-82.02 -44.48L-83.59 -41.45Z" fill="none" stroke="#35343f" stroke-width="1.4" vector-effect="non-scaling-stroke"/>
<clipPath id="pc3"><path d="M-85.59 -24.66L-86.35 -24.82L-87.06 -24.85L-87.82 -24.73L-88.49 -24.49L-89.15 -24.11L-89.69 -23.65L-90.17 -23.06L-90.51 -22.43L-91.28 -19.31L-92.11 -14.84L-92.67 -10.84L-93.05 -6.88L-93.26 -2.85L-93.29 1.16L-93.13 5.71L-92.79 9.72L-92.21 14.24L-91.51 18.21L-90.51 22.66L-89.44 26.54L-88.22 30.36L-86.85 34.1L-85.52 37.29L-83.84 40.93L-82.01 44.49L-80.02 47.97L-77.89 51.37L-75.62 54.64L-72.84 58.31L-69.51 62.24L-66.37 65.57L-62.67 69.12L-60.51 71.01L-59.6 71.57L-58.93 71.8L-58.25 71.9L-57.56 71.89L-56.81 71.73L-55.73 71.21L-54.81 70.33L-20.31 22.84L-19.89 22.07L-19.65 21.21L-19.61 20.25L-19.77 19.39L-20.33 18.25L-21.58 16.84L-22.66 16.17L-23.82 15.89L-24.8 15.92L-25.74 16.19L-28.97 18.13L-30.52 18.85L-31.94 19.38L-34.6 20.06L-37.54 20.39L-40.55 20.27L-42.24 20.01L-43.73 19.66L-45.36 19.13L-46.76 18.55L-48.29 17.77L-49.58 16.97L-51.17 15.8L-52.64 14.47L-53.98 12.99L-55.05 11.57L-56.09 9.88L-56.95 8.11L-57.65 6.24L-58.16 4.32L-58.45 2.57L-58.59 0.58L-58.54 -1.4L-58.3 -3.36L-57.93 -5.07L-57.42 -6.72L-56.75 -8.37L-55.72 -10.4L-55.43 -11.55L-55.43 -12.33L-55.58 -13.11L-55.88 -13.84L-56.38 -14.55L-57.12 -15.22L-58.09 -15.72Z"/></clipPath>
<path d="M-85.59 -24.66L-86.35 -24.82L-87.06 -24.85L-87.82 -24.73L-88.49 -24.49L-89.15 -24.11L-89.69 -23.65L-90.17 -23.06L-90.51 -22.43L-91.28 -19.31L-92.11 -14.84L-92.67 -10.84L-93.05 -6.88L-93.26 -2.85L-93.29 1.16L-93.13 5.71L-92.79 9.72L-92.21 14.24L-91.51 18.21L-90.51 22.66L-89.44 26.54L-88.22 30.36L-86.85 34.1L-85.52 37.29L-83.84 40.93L-82.01 44.49L-80.02 47.97L-77.89 51.37L-75.62 54.64L-72.84 58.31L-69.51 62.24L-66.37 65.57L-62.67 69.12L-60.51 71.01L-59.6 71.57L-58.93 71.8L-58.25 71.9L-57.56 71.89L-56.81 71.73L-55.73 71.21L-54.81 70.33L-20.31 22.84L-19.89 22.07L-19.65 21.21L-19.61 20.25L-19.77 19.39L-20.33 18.25L-21.58 16.84L-22.66 16.17L-23.82 15.89L-24.8 15.92L-25.74 16.19L-28.97 18.13L-30.52 18.85L-31.94 19.38L-34.6 20.06L-37.54 20.39L-40.55 20.27L-42.24 20.01L-43.73 19.66L-45.36 19.13L-46.76 18.55L-48.29 17.77L-49.58 16.97L-51.17 15.8L-52.64 14.47L-53.98 12.99L-55.05 11.57L-56.09 9.88L-56.95 8.11L-57.65 6.24L-58.16 4.32L-58.45 2.57L-58.59 0.58L-58.54 -1.4L-58.3 -3.36L-57.93 -5.07L-57.42 -6.72L-56.75 -8.37L-55.72 -10.4L-55.43 -11.55L-55.43 -12.33L-55.58 -13.11L-55.88 -13.84L-56.38 -14.55L-57.12 -15.22L-58.09 -15.72Z" fill="#9291a0"/>
<g clip-path="url(#pc3)"><path d="M-85.59 -24.66L-86.35 -24.82L-87.06 -24.85L-87.82 -24.73L-88.49 -24.49L-89.15 -24.11L-89.69 -23.65L-90.17 -23.06L-90.51 -22.43L-91.28 -19.31L-92.11 -14.84L-92.67 -10.84L-93.05 -6.88L-93.26 -2.85L-93.29 1.16L-93.13 5.71L-92.79 9.72L-92.21 14.24L-91.51 18.21L-90.51 22.66L-89.44 26.54L-88.22 30.36L-86.85 34.1L-85.52 37.29L-83.84 40.93L-82.01 44.49L-80.02 47.97L-77.89 51.37L-75.62 54.64L-72.84 58.31L-69.51 62.24L-66.37 65.57L-62.67 69.12L-60.51 71.01L-59.6 71.57L-58.93 71.8L-58.25 71.9L-57.56 71.89L-56.81 71.73L-55.73 71.21L-54.81 70.33L-20.31 22.84L-19.89 22.07L-19.65 21.21L-19.61 20.25L-19.77 19.39L-20.33 18.25L-21.58 16.84L-22.66 16.17L-23.82 15.89L-24.8 15.92L-25.74 16.19L-28.97 18.13L-30.52 18.85L-31.94 19.38L-34.6 20.06L-37.54 20.39L-40.55 20.27L-42.24 20.01L-43.73 19.66L-45.36 19.13L-46.76 18.55L-48.29 17.77L-49.58 16.97L-51.17 15.8L-52.64 14.47L-53.98 12.99L-55.05 11.57L-56.09 9.88L-56.95 8.11L-57.65 6.24L-58.16 4.32L-58.45 2.57L-58.59 0.58L-58.54 -1.4L-58.3 -3.36L-57.93 -5.07L-57.42 -6.72L-56.75 -8.37L-55.72 -10.4L-55.43 -11.55L-55.43 -12.33L-55.58 -13.11L-55.88 -13.84L-56.38 -14.55L-57.12 -15.22L-58.09 -15.72Z" fill="#6f6e7c" transform="translate(3.2 4.0)"/></g>
<path d="M-85.59 -24.66L-86.35 -24.82L-87.06 -24.85L-87.82 -24.73L-88.49 -24.49L-89.15 -24.11L-89.69 -23.65L-90.17 -23.06L-90.51 -22.43L-91.28 -19.31L-92.11 -14.84L-92.67 -10.84L-93.05 -6.88L-93.26 -2.85L-93.29 1.16L-93.13 5.71L-92.79 9.72L-92.21 14.24L-91.51 18.21L-90.51 22.66L-89.44 26.54L-88.22 30.36L-86.85 34.1L-85.52 37.29L-83.84 40.93L-82.01 44.49L-80.02 47.97L-77.89 51.37L-75.62 54.64L-72.84 58.31L-69.51 62.24L-66.37 65.57L-62.67 69.12L-60.51 71.01L-59.6 71.57L-58.93 71.8L-58.25 71.9L-57.56 71.89L-56.81 71.73L-55.73 71.21L-54.81 70.33L-20.31 22.84L-19.89 22.07L-19.65 21.21L-19.61 20.25L-19.77 19.39L-20.33 18.25L-21.58 16.84L-22.66 16.17L-23.82 15.89L-24.8 15.92L-25.74 16.19L-28.97 18.13L-30.52 18.85L-31.94 19.38L-34.6 20.06L-37.54 20.39L-40.55 20.27L-42.24 20.01L-43.73 19.66L-45.36 19.13L-46.76 18.55L-48.29 17.77L-49.58 16.97L-51.17 15.8L-52.64 14.47L-53.98 12.99L-55.05 11.57L-56.09 9.88L-56.95 8.11L-57.65 6.24L-58.16 4.32L-58.45 2.57L-58.59 0.58L-58.54 -1.4L-58.3 -3.36L-57.93 -5.07L-57.42 -6.72L-56.75 -8.37L-55.72 -10.4L-55.43 -11.55L-55.43 -12.33L-55.58 -13.11L-55.88 -13.84L-56.38 -14.55L-57.12 -15.22L-58.09 -15.72Z" fill="none" stroke="#35343f" stroke-width="1.4" vector-effect="non-scaling-stroke"/>
<clipPath id="pc4"><path d="M-49.9 73.78L-50.29 74.46L-50.53 75.12L-50.66 75.88L-50.64 76.59L-50.48 77.34L-50.21 77.99L-49.79 78.64L-49.3 79.15L-46.5 80.89L-42.47 83.07L-38.84 84.83L-35.19 86.41L-31.42 87.85L-27.62 89.12L-23.24 90.36L-19.31 91.28L-14.84 92.11L-10.84 92.67L-6.31 93.09L-2.28 93.27L1.73 93.28L5.71 93.13L9.16 92.85L13.13 92.37L17.09 91.72L21.01 90.9L24.89 89.92L28.71 88.77L33.05 87.25L37.29 85.52L41.94 83.34L46 81.17L48.83 79.5L49.58 78.87L50.01 78.33L50.34 77.71L50.58 76.98L50.66 76.27L50.5 75.01L49.95 73.86L15.5 26.44L14.91 25.79L14.12 25.25L13.29 24.93L12.34 24.8L11.17 24.95L8.55 25.93L5.96 26.64L3.36 27.09L0.99 27.28L-2.02 27.23L-5.01 26.84L-7.62 26.21L-11 25L-11.85 24.82L-12.63 24.81L-13.4 24.96L-14.12 25.25L-14.76 25.66L-15.51 26.45Z"/></clipPath>
<path d="M-49.9 73.78L-50.29 74.46L-50.53 75.12L-50.66 75.88L-50.64 76.59L-50.48 77.34L-50.21 77.99L-49.79 78.64L-49.3 79.15L-46.5 80.89L-42.47 83.07L-38.84 84.83L-35.19 86.41L-31.42 87.85L-27.62 89.12L-23.24 90.36L-19.31 91.28L-14.84 92.11L-10.84 92.67L-6.31 93.09L-2.28 93.27L1.73 93.28L5.71 93.13L9.16 92.85L13.13 92.37L17.09 91.72L21.01 90.9L24.89 89.92L28.71 88.77L33.05 87.25L37.29 85.52L41.94 83.34L46 81.17L48.83 79.5L49.58 78.87L50.01 78.33L50.34 77.71L50.58 76.98L50.66 76.27L50.5 75.01L49.95 73.86L15.5 26.44L14.91 25.79L14.12 25.25L13.29 24.93L12.34 24.8L11.17 24.95L8.55 25.93L5.96 26.64L3.36 27.09L0.99 27.28L-2.02 27.23L-5.01 26.84L-7.62 26.21L-11 25L-11.85 24.82L-12.63 24.81L-13.4 24.96L-14.12 25.25L-14.76 25.66L-15.51 26.45Z" fill="#9291a0"/>
<g clip-path="url(#pc4)"><path d="M-49.9 73.78L-50.29 74.46L-50.53 75.12L-50.66 75.88L-50.64 76.59L-50.48 77.34L-50.21 77.99L-49.79 78.64L-49.3 79.15L-46.5 80.89L-42.47 83.07L-38.84 84.83L-35.19 86.41L-31.42 87.85L-27.62 89.12L-23.24 90.36L-19.31 91.28L-14.84 92.11L-10.84 92.67L-6.31 93.09L-2.28 93.27L1.73 93.28L5.71 93.13L9.16 92.85L13.13 92.37L17.09 91.72L21.01 90.9L24.89 89.92L28.71 88.77L33.05 87.25L37.29 85.52L41.94 83.34L46 81.17L48.83 79.5L49.58 78.87L50.01 78.33L50.34 77.71L50.58 76.98L50.66 76.27L50.5 75.01L49.95 73.86L15.5 26.44L14.91 25.79L14.12 25.25L13.29 24.93L12.34 24.8L11.17 24.95L8.55 25.93L5.96 26.64L3.36 27.09L0.99 27.28L-2.02 27.23L-5.01 26.84L-7.62 26.21L-11 25L-11.85 24.82L-12.63 24.81L-13.4 24.96L-14.12 25.25L-14.76 25.66L-15.51 26.45Z" fill="#6f6e7c" transform="translate(3.2 4.0)"/></g>
<path d="M-49.9 73.78L-50.29 74.46L-50.53 75.12L-50.66 75.88L-50.64 76.59L-50.48 77.34L-50.21 77.99L-49.79 78.64L-49.3 79.15L-46.5 80.89L-42.47 83.07L-38.84 84.83L-35.19 86.41L-31.42 87.85L-27.62 89.12L-23.24 90.36L-19.31 91.28L-14.84 92.11L-10.84 92.67L-6.31 93.09L-2.28 93.27L1.73 93.28L5.71 93.13L9.16 92.85L13.13 92.37L17.09 91.72L21.01 90.9L24.89 89.92L28.71 88.77L33.05 87.25L37.29 85.52L41.94 83.34L46 81.17L48.83 79.5L49.58 78.87L50.01 78.33L50.34 77.71L50.58 76.98L50.66 76.27L50.5 75.01L49.95 73.86L15.5 26.44L14.91 25.79L14.12 25.25L13.29 24.93L12.34 24.8L11.17 24.95L8.55 25.93L5.96 26.64L3.36 27.09L0.99 27.28L-2.02 27.23L-5.01 26.84L-7.62 26.21L-11 25L-11.85 24.82L-12.63 24.81L-13.4 24.96L-14.12 25.25L-14.76 25.66L-15.51 26.45Z" fill="none" stroke="#35343f" stroke-width="1.4" vector-effect="non-scaling-stroke"/>
<circle cx="-38.3" cy="0.1" r="11.3" fill="#ffffff" stroke="#3e3d4b" stroke-width="1.6" vector-effect="non-scaling-stroke"/>
<circle cx="38.3" cy="0.1" r="11.3" fill="#3f3e4c" stroke="#3e3d4b" stroke-width="1.2" vector-effect="non-scaling-stroke"/>
<circle cx="40.3" cy="1.1" r="7" fill="#5e5d6b"/>
</g>
</svg>
</body></html>
